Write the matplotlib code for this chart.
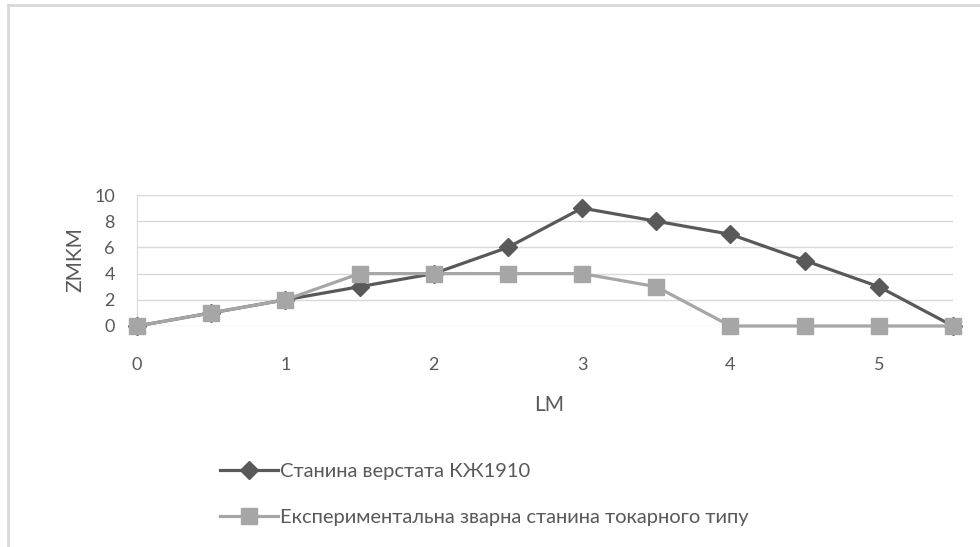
import matplotlib.pyplot as plt
from matplotlib.lines import Line2D

plt.rcParams['font.family'] = ['Lato', 'DejaVu Sans']

x_vals = [0, 0.5, 1, 1.5, 2, 2.5, 3, 3.5, 4, 4.5, 5, 5.5]
kzh1910 = [0, 1, 2, 3, 4, 6, 9, 8, 7, 5, 3, 0]
welded = [0, 1, 2, 4, 4, 4, 4, 3, 0, 0, 0, 0]
label1 = "Станина верстата КЖ1910"
label2 = "Експериментальна зварна станина токарного типу"
xticks = [0, 1, 2, 3, 4, 5]
yticks = [0, 2, 4, 6, 8, 10]

txt = '#595959'
W, H = 980, 547
fig = plt.figure(figsize=(W / 100, H / 100), dpi=100)
ax = fig.add_axes([137 / W, 1 - 326 / H, (953 - 137) / W, (326 - 195) / H])

# chart frame, only top and left edges visible
fig.add_artist(Line2D([8 / W, 8 / W], [0, 1 - 5 / H], color='#d9d9d9', lw=2))
fig.add_artist(Line2D([8 / W, 1], [1 - 5 / H, 1 - 5 / H], color='#d9d9d9', lw=2))

for y in yticks:
    ax.axhline(y, color='#d9d9d9', lw=1, zorder=0)

ax.plot(x_vals, kzh1910, color='#595959', lw=2.3, marker='D', markersize=9,
        clip_on=False, zorder=3, label=label1)
ax.plot(x_vals, welded, color='#a6a6a6', lw=2.3, marker='s', markersize=11.5,
        clip_on=False, zorder=4, label=label2)

ax.set_xlim(0, 5.5)
ax.set_ylim(0, 10)
ax.set_xticks(xticks)
ax.set_yticks(yticks)
ax.tick_params(length=0, colors=txt, labelsize=13)
ax.tick_params(axis='x', pad=22)
ax.tick_params(axis='y', pad=16)
for s in ['top', 'right', 'bottom']:
    ax.spines[s].set_visible(False)
ax.spines['left'].set_color('#d9d9d9')

fig.text(549 / W, 1 - 405 / H, 'LM', ha='center', va='center', color=txt, fontsize=15)
fig.text(75 / W, 1 - 260 / H, 'ZMKM', ha='center', va='center', rotation=90,
         color=txt, fontsize=15)

leg = ax.legend(loc='upper left', bbox_to_anchor=(212 / W, 1 - 455 / H),
                bbox_transform=fig.transFigure, frameon=False, fontsize=14.5,
                handlelength=2.9, handletextpad=0.1, labelspacing=1.45,
                labelcolor=txt, borderaxespad=0)

fig.savefig('out.png', dpi=100, facecolor='white')
